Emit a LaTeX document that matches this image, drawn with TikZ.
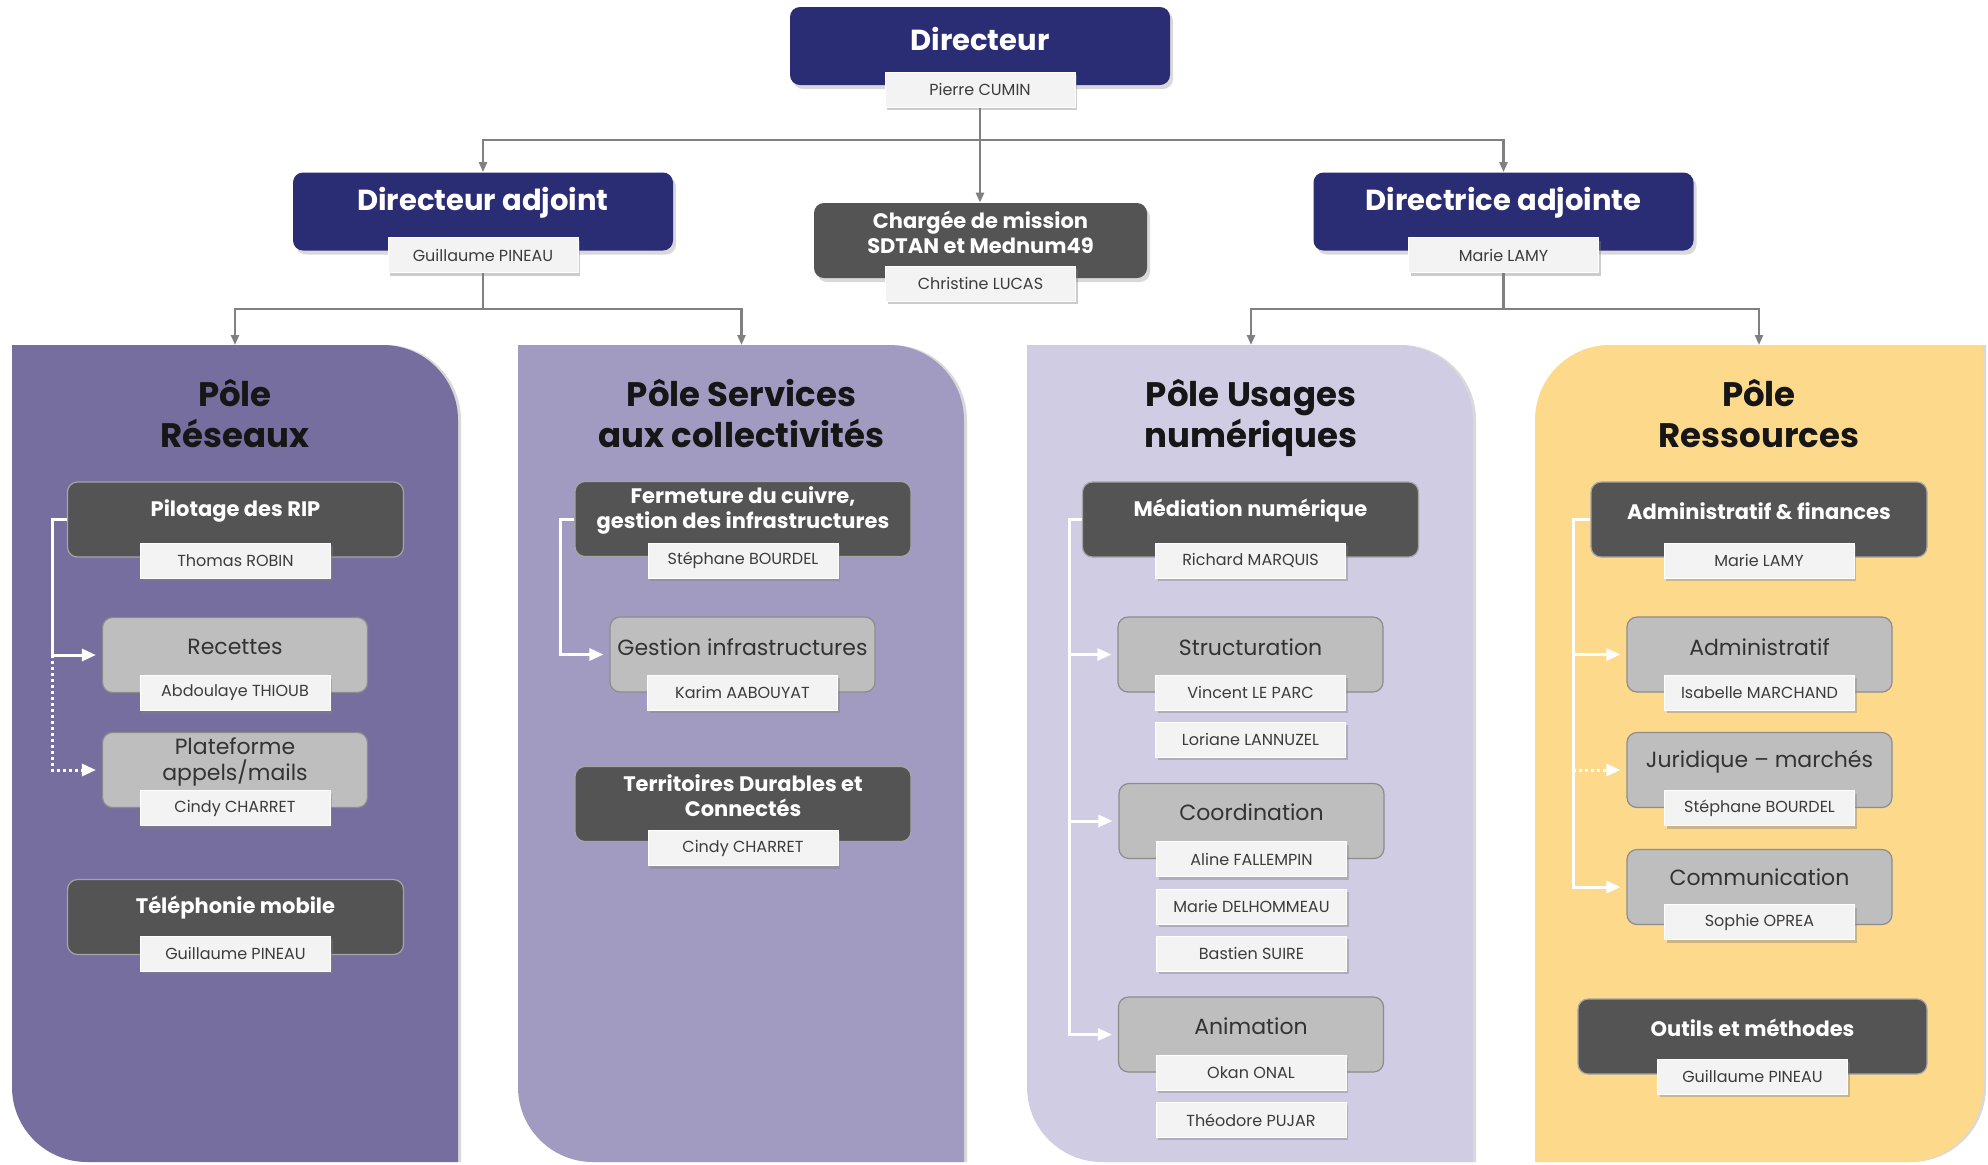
\documentclass[tikz,border=0pt]{standalone}
\usepackage{fontspec}
\setmainfont{Poppins}
\usetikzlibrary{arrows.meta,shadows,positioning}
\definecolor{BossClr}{RGB}{42,44,116}
\definecolor{PoleA}{RGB}{119,110,160}
\definecolor{PoleB}{RGB}{161,155,194}
\definecolor{PoleC}{RGB}{208,204,227}
\definecolor{PoleD}{RGB}{253,217,139}
\definecolor{HeadClr}{RGB}{84,84,84}
\definecolor{HeadLine}{RGB}{165,165,165}
\definecolor{TeamClr}{RGB}{190,190,190}
\definecolor{TeamLine}{RGB}{140,140,140}
\definecolor{TagClr}{RGB}{243,243,243}
\definecolor{LinkClr}{RGB}{128,128,128}
\definecolor{InkClr}{RGB}{60,60,60}
\definecolor{PoleInk}{RGB}{22,22,22}

\begin{document}
\begin{tikzpicture}[x=0.5pt,y=-0.5pt,node distance=5.75pt,
  boss/.style={rectangle,rounded corners=5pt,fill=BossClr,minimum width=190pt,minimum height=39pt,
    drop shadow={opacity=.3,shadow xshift=1.5pt,shadow yshift=-2pt}},
  chief/.style={rectangle,rounded corners=5pt,fill=HeadClr,minimum width=166.5pt,minimum height=37.5pt,
    drop shadow={opacity=.3,shadow xshift=1.5pt,shadow yshift=-2pt}},
  bosstxt/.style={text=white,font=\bfseries\fontsize{14.5}{16}\selectfont},
  chieftxt/.style={text=white,align=center,font=\bfseries\fontsize{10.5}{12.5}\selectfont},
  head/.style={rectangle,rounded corners=5pt,fill=HeadClr,draw=HeadLine,line width=0.6pt,minimum width=168pt,minimum height=37.5pt},
  headtxt/.style={text=white,align=center,font=\bfseries\fontsize{10.5}{12.5}\selectfont},
  team/.style={rectangle,rounded corners=5pt,fill=TeamClr,draw=TeamLine,line width=0.6pt,minimum width=132.5pt,minimum height=37.5pt},
  teamtxt/.style={text=InkClr!85!black,align=center,font=\fontsize{11}{13}\selectfont},
  tag/.style={rectangle,fill=TagClr,draw=white,line width=0.4pt,minimum width=95pt,minimum height=17.5pt,inner sep=0pt,
    text=InkClr,font=\fontsize{8}{9}\selectfont,drop shadow={opacity=.4,shadow xshift=1.2pt,shadow yshift=-1.5pt}},
  poletxt/.style={text=PoleInk,align=center,font=\bfseries\fontsize{17}{20.5}\selectfont},
  gline/.style={LinkClr,line width=1.2pt},
  glink/.style={gline,-{Triangle[length=5pt,width=4pt]}},
  wlink/.style={white,line width=1.5pt,shorten >=3pt,-{Triangle[length=7pt,width=6pt]}},
  wdot/.style={wlink,dash pattern=on 1.5pt off 1.5pt}]
\useasboundingbox (0,0) rectangle (1988,1164);

% panels
\foreach \l/\c in {12/PoleA,518/PoleB,1027/PoleC}{
  \fill[black,opacity=.15,xshift=1.5pt] (\l,345) -- (\l+371,345) arc[start angle=90,end angle=0,radius=37.5pt]
    -- (\l+446,1162) -- (\l+75,1162) arc[start angle=270,end angle=180,radius=37.5pt] -- cycle;
  \fill[\c] (\l,345) -- (\l+371,345) arc[start angle=90,end angle=0,radius=37.5pt]
    -- (\l+446,1162) -- (\l+75,1162) arc[start angle=270,end angle=180,radius=37.5pt] -- cycle;
}
\fill[black,opacity=.15,xshift=1.5pt] (1610,345) -- (1983,345) -- (1983,1087) arc[start angle=0,end angle=-90,radius=37.5pt]
  -- (1535,1162) -- (1535,420) arc[start angle=180,end angle=90,radius=37.5pt] -- cycle;
\fill[PoleD] (1610,345) -- (1983,345) -- (1983,1087) arc[start angle=0,end angle=-90,radius=37.5pt]
  -- (1535,1162) -- (1535,420) arc[start angle=180,end angle=90,radius=37.5pt] -- cycle;

\coordinate (pR) at (235,345);
\coordinate (pS) at (741.5,345);
\coordinate (pU) at (1251,345);
\coordinate (pRes) at (1759,345);

% direction
\node[boss] (dir) at (980,46) {};
\node[bosstxt] (dirT) at ([yshift=3.5pt]dir.center) {Directeur};
\node[tag] (dirN) at ([yshift=-2.2pt]dir.south) {Pierre CUMIN};

\node[boss] (adjA) at (483,211.5) {};
\node[bosstxt] (adjAT) at ([yshift=4.25pt]adjA.center) {Directeur adjoint};
\node[tag] (adjAN) at ([yshift=-2.2pt]adjA.south) {Guillaume PINEAU};

\node[chief] (chg) at (980.5,240.5) {};
\node[chieftxt] (chgT) at ([yshift=4.25pt]chg.center) {Chargée de mission\\SDTAN et Mednum49};
\node[tag] (chgN) at ([yshift=-2.5pt]chg.south) {Christine LUCAS};

\node[boss] (adjB) at (1503.5,211.5) {};
\node[bosstxt] (adjBT) at ([yshift=4.25pt]adjB.center) {Directrice adjointe};
\node[tag] (adjBN) at ([yshift=-2.2pt]adjB.south) {Marie LAMY};

% Pole Reseaux
\node[poletxt] (tR) at (235,414) {Pôle\\Réseaux};
\node[head] (pil) at (235.5,519.5) {};
\node[headtxt] (pilT) at ([yshift=4.25pt]pil.center) {Pilotage des RIP};
\node[tag] (pilN) at ([yshift=-1.5pt]pil.south) {Thomas ROBIN};
\node[team] (rec) at (235,655) {};
\node[teamtxt] (recT) at ([yshift=4pt]rec.center) {Recettes};
\node[tag] (recN) at (rec.south) {Abdoulaye THIOUB};
\node[team] (pla) at (235,770) {};
\node[teamtxt] (plaT) at ([yshift=4pt]pla.center) {Plateforme\\appels/mails};
\node[tag] (plaN) at (pla.south) {Cindy CHARRET};
\node[head] (tel) at (235.5,917) {};
\node[headtxt] (telT) at ([yshift=4.5pt]tel.center) {Téléphonie mobile};
\node[tag] (telN) at ([yshift=0.75pt]tel.south) {Guillaume PINEAU};

% Pole Services
\node[poletxt] (tS) at (741.5,414) {Pôle Services\\aux collectivités};
\node[head] (fer) at (743,519) {};
\node[headtxt] (ferT) at ([yshift=4.25pt]fer.center) {Fermeture du cuivre,\\gestion des infrastructures};
\node[tag] (ferN) at ([yshift=-1.75pt]fer.south) {Stéphane BOURDEL};
\node[team] (ges) at (742.5,654.5) {};
\node[teamtxt] (gesT) at ([yshift=3.75pt]ges.center) {Gestion infrastructures};
\node[tag] (gesN) at (ges.south) {Karim AABOUYAT};
\node[head] (ter) at (743,804) {};
\node[headtxt] (terT) at ([yshift=4.25pt]ter.center) {Territoires Durables et\\Connectés};
\node[tag] (terN) at ([yshift=-3pt]ter.south) {Cindy CHARRET};

% Pole Usages
\node[poletxt] (tU) at (1251,418) {Pôle Usages\\numériques};
\node[head] (med) at (1250.5,519.5) {};
\node[headtxt] (medT) at ([yshift=4.25pt]med.center) {Médiation numérique};
\node[tag] (medN) at ([yshift=-1.5pt]med.south) {Richard MARQUIS};
\node[team] (str) at (1250.5,654.5) {};
\node[teamtxt] (strT) at ([yshift=3.75pt]str.center) {Structuration};
\node[tag] (vin) at (str.south) {Vincent LE PARC};
\node[tag,below=of vin] (lor) {Loriane LANNUZEL};
\node[team] (coo) at (1251.5,821) {};
\node[teamtxt] (cooT) at ([yshift=4.5pt]coo.center) {Coordination};
\node[tag] (ali) at (coo.south) {Aline FALLEMPIN};
\node[tag,below=of ali] (mar) {Marie DELHOMMEAU};
\node[tag,below=of mar] (bas) {Bastien SUIRE};
\node[team] (ani) at (1251,1034.5) {};
\node[teamtxt] (aniT) at ([yshift=4.25pt]ani.center) {Animation};
\node[tag] (oka) at (ani.south) {Okan ONAL};
\node[tag,below=of oka] (the) {Théodore PUJAR};

% Pole Ressources
\node[poletxt] (tRes) at (1759,414) {Pôle\\Ressources};
\node[head] (adf) at (1759,519.5) {};
\node[headtxt] (adfT) at ([yshift=4.25pt]adf.center) {Administratif \& finances};
\node[tag] (adfN) at ([yshift=-1.5pt]adf.south) {Marie LAMY};
\node[team] (adm) at (1759.5,654.5) {};
\node[teamtxt] (admT) at ([yshift=3.75pt]adm.center) {Administratif};
\node[tag] (admN) at (adm.south) {Isabelle MARCHAND};
\node[team] (jur) at (1759.5,770) {};
\node[teamtxt] (jurT) at ([yshift=4pt]jur.center) {Juridique – marchés};
\node[tag] (jurN) at (jur.south) {Stéphane BOURDEL};
\node[team] (com) at (1759.5,887) {};
\node[teamtxt] (comT) at ([yshift=5pt]com.center) {Communication};
\node[tag] (comN) at ([yshift=1.5pt]com.south) {Sophie OPREA};
\node[head,minimum width=174.5pt] (otl) at (1752.5,1036.5) {};
\node[headtxt] (otlT) at ([yshift=4.25pt]otl.center) {Outils et méthodes};
\node[tag] (otlN) at ([yshift=-1pt]otl.south) {Guillaume PINEAU};

% links
\coordinate (bT) at ([yshift=-16pt]dirN.south);
\coordinate (bA) at ([yshift=-18pt]adjAN.south);
\coordinate (bB) at ([yshift=-18pt]adjBN.south);
\draw[glink] (dirN.south) -- (dirN.south |- chg.north);
\draw[glink] (bT) -| (adjA.north);
\draw[glink] (bT) -| (adjB.north);
\draw[gline] (adjAN.south) -- (bA);
\draw[glink] (bA) -| (pR);
\draw[glink] (bA) -| (pS);
\draw[gline] (adjBN.south) -- (bB);
\draw[glink] (bB) -| (pU);
\draw[glink] (bB) -| (pRes);

\coordinate (jR) at ([xshift=-7.25pt]pil.west);
\coordinate (jS) at ([xshift=-7pt]fer.west);
\coordinate (jU) at ([xshift=-6.25pt]med.west);
\coordinate (jD) at ([xshift=-8.5pt]adf.west);
\draw[wlink] (pil.west) -- (jR) |- (rec.west);
\draw[wdot] (jR |- rec.west) |- (pla.west);
\draw[wlink] (fer.west) -- (jS) |- (ges.west);
\draw[wlink] (med.west) -- (jU) |- (ani.west);
\draw[wlink] (jU |- str.west) -- (str.west);
\draw[wlink] (jU |- coo.west) -- (coo.west);
\draw[wlink] (adf.west) -- (jD) |- (com.west);
\draw[wlink] (jD |- adm.west) -- (adm.west);
\draw[wdot] (jD |- jur.west) -- (jur.west);

\end{tikzpicture}
\end{document}
